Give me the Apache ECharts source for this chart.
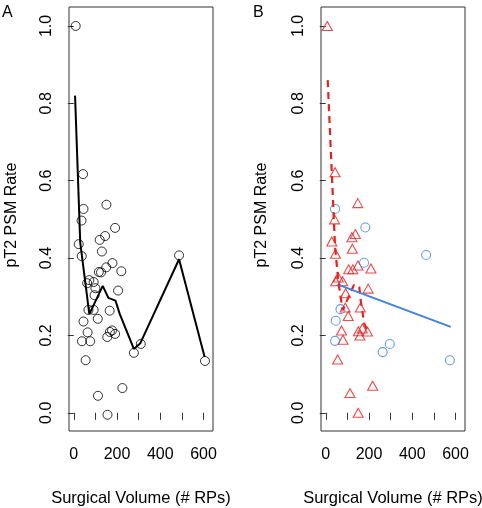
<!DOCTYPE html>
<html>
<head>
<meta charset="utf-8">
<script src="https://cdn.jsdelivr.net/npm/echarts@6/dist/echarts.min.js"></script>
<style>
html,body{margin:0;padding:0;background:#fff;}
#chart{width:482px;height:508px;}
</style>
</head>
<body>
<div id="chart"></div>
<script>
// ---- data ----
var xTicks = [0, 100, 200, 300, 400, 500, 600];
var xLabels = [0, 200, 400, 600];
var yTicks = [0, 0.2, 0.4, 0.6, 0.8, 1.0];

// Panel A: all hospitals (volume, pT2 PSM rate)
var aVolume = [9, 43, 45, 36, 151, 191, 145, 120, 23, 37, 130, 150, 179, 116, 126, 220, 62, 72, 92, 100, 96, 205, 68, 92, 166, 111, 45, 64, 38, 76, 55, 155, 167, 177, 191, 278, 310, 487, 607, 112, 225, 156];
var aRate   = [1.0, 0.617, 0.527, 0.497, 0.538, 0.478, 0.457, 0.447, 0.436, 0.405, 0.417, 0.376, 0.387, 0.364, 0.363, 0.366, 0.335, 0.343, 0.338, 0.322, 0.304, 0.316, 0.266, 0.266, 0.264, 0.243, 0.236, 0.208, 0.185, 0.185, 0.136, 0.196, 0.209, 0.213, 0.204, 0.155, 0.178, 0.407, 0.134, 0.044, 0.064, -0.005];
// Panel A: smoothed trend
var aLineX = [6, 30, 72, 134, 160, 193, 213, 278, 308, 487, 605];
var aLineY = [0.82, 0.44, 0.255, 0.328, 0.297, 0.290, 0.255, 0.165, 0.180, 0.397, 0.145];

// Panel B: triangles (red group)
var bTriVolume = [7, 43, 41, 148, 137, 121, 28, 123, 45, 106, 125, 149, 209, 58, 46, 78, 196, 92, 90, 104, 160, 73, 151, 169, 193, 158, 80, 55, 217, 112, 150];
var bTriRate   = [1.0, 0.622, 0.50, 0.542, 0.462, 0.454, 0.443, 0.424, 0.411, 0.371, 0.371, 0.381, 0.373, 0.350, 0.340, 0.340, 0.321, 0.309, 0.272, 0.250, 0.272, 0.213, 0.211, 0.218, 0.210, 0.200, 0.189, 0.138, 0.070, 0.051, 0.0];
// Panel B: circles (blue group)
var bCirVolume = [43, 183, 464, 177, 68, 46, 43, 296, 263, 574];
var bCirRate   = [0.527, 0.479, 0.408, 0.388, 0.268, 0.238, 0.186, 0.178, 0.157, 0.136];
// Panel B: trend lines
var bRedLineX = [9, 43, 58, 78, 130, 155, 162, 178, 195];
var bRedLineY = [0.86, 0.43, 0.34, 0.265, 0.33, 0.325, 0.29, 0.23, 0.21];
var bBlueLineX = [63, 578];
var bBlueLineY = [0.33, 0.222];

function zip(xs, ys) { return xs.map(function (x, i) { return [x, ys[i]]; }); }

var FONT = '"Liberation Sans", Arial, sans-serif';
var RED = '#e8201f';
var BLUE = '#3f83e3';

function xAxisFor(gi) {
  return {
    gridIndex: gi, type: 'value', min: -22, max: 644,
    axisLine: {show: false},
    splitLine: {show: false},
    axisTick: {show: true, customValues: xTicks, length: 7, lineStyle: {color: '#333', width: 1}},
    axisLabel: {show: true, customValues: xLabels, margin: 16, color: '#000', fontSize: 16, fontFamily: FONT},
    name: 'Surgical Volume (# RPs)', nameLocation: 'middle', nameGap: 59,
    nameTextStyle: {color: '#000', fontSize: 16.5, fontFamily: FONT}
  };
}
function yAxisFor(gi, gap) {
  return {
    gridIndex: gi, type: 'value', min: -0.047, max: 1.049,
    axisLine: {show: false},
    splitLine: {show: false},
    axisTick: {show: true, customValues: yTicks, length: 6, lineStyle: {color: '#333', width: 1}},
    axisLabel: {show: true, customValues: yTicks, rotate: 90, margin: 14, color: '#000', fontSize: 16, fontFamily: FONT,
      formatter: function (v) { return Number(v).toFixed(1); }},
    name: 'pT2 PSM Rate', nameLocation: 'middle', nameGap: gap,
    nameTextStyle: {color: '#000', fontSize: 16, fontFamily: FONT, padding: [0, 0, 0, 8]}
  };
}

var chart = echarts.init(document.getElementById('chart'), null, {renderer: 'canvas'});
chart.setOption({
  animation: false,
  backgroundColor: '#fff',
  grid: [
    {left: 69, top: 7, width: 144, height: 424, show: true, borderColor: '#333', borderWidth: 1, backgroundColor: 'transparent', containLabel: false, outerBoundsMode: 'none'},
    {left: 321, top: 7, width: 144, height: 424, show: true, borderColor: '#333', borderWidth: 1, backgroundColor: 'transparent', containLabel: false, outerBoundsMode: 'none'}
  ],
  xAxis: [xAxisFor(0), xAxisFor(1)],
  yAxis: [yAxisFor(0, 49), yAxisFor(1, 51)],
  graphic: [
    {type: 'text', left: 2, top: 5, style: {text: 'A', fontSize: 16, fontFamily: FONT, fill: '#000'}},
    {type: 'text', left: 253, top: 5, style: {text: 'B', fontSize: 16, fontFamily: FONT, fill: '#000'}}
  ],
  series: [
    {type: 'scatter', xAxisIndex: 0, yAxisIndex: 0, data: zip(aVolume, aRate), symbol: 'circle', symbolSize: 9,
      itemStyle: {color: 'transparent', borderColor: '#000', borderWidth: 1}, z: 2},
    {type: 'line', xAxisIndex: 0, yAxisIndex: 0, data: zip(aLineX, aLineY), showSymbol: false, symbol: 'none',
      lineStyle: {color: '#000', width: 2}, z: 3},
    {type: 'scatter', xAxisIndex: 1, yAxisIndex: 1, data: zip(bTriVolume, bTriRate), symbol: 'triangle', symbolSize: [10, 9],
      itemStyle: {color: 'transparent', borderColor: RED, borderWidth: 1.1}, z: 2},
    {type: 'scatter', xAxisIndex: 1, yAxisIndex: 1, data: zip(bCirVolume, bCirRate), symbol: 'circle', symbolSize: 9,
      itemStyle: {color: 'transparent', borderColor: BLUE, borderWidth: 1.1}, z: 2},
    {type: 'line', xAxisIndex: 1, yAxisIndex: 1, data: zip(bRedLineX, bRedLineY), showSymbol: false, symbol: 'none',
      lineStyle: {color: RED, width: 2.2, type: [7, 5]}, z: 3},
    {type: 'line', xAxisIndex: 1, yAxisIndex: 1, data: zip(bBlueLineX, bBlueLineY), showSymbol: false, symbol: 'none',
      lineStyle: {color: BLUE, width: 2}, z: 3}
  ]
});
</script>
</body>
</html>
